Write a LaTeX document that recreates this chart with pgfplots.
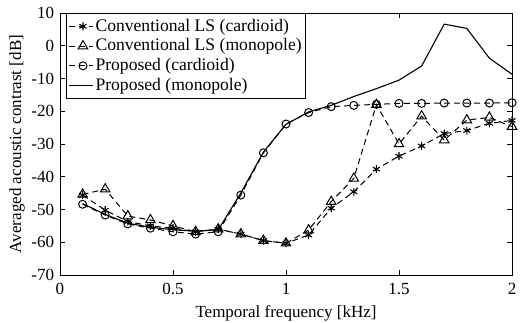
\documentclass[border=0pt]{standalone}
\usepackage{fontspec}
\setmainfont{Liberation Serif}
\usepackage{pgfplots}
\pgfplotsset{compat=1.18}
\begin{document}
\fontsize{17}{20}\selectfont
\begin{tikzpicture}
\begin{axis}[name=ax, at={(0,0)}, anchor=south west,
  scale only axis, width=452pt, height=262pt,
  xmin=0, xmax=2, ymin=-70, ymax=10,
  xtick={0,0.5,1,1.5,2}, ytick={-70,-60,...,10},
  xticklabels={0,0.5,1,1.5,2},
  /pgf/number format/assume math mode=true,
  tick align=inside, major tick length=5pt,
  tick style={line width=0.7pt, black},
  axis line style={line width=0.9pt},
  every tick label/.append style={font=\fontsize{17}{20}\selectfont},
  xticklabel style={yshift=-2pt},
  xlabel={Temporal frequency [kHz]},
  ylabel={Averaged acoustic contrast [dB]},
  xlabel style={at={(axis description cs:0.5,-0.145)}, anchor=center, font=\fontsize{17}{20}\selectfont},
  ylabel style={at={(axis description cs:-0.095,0.5)}, anchor=center, rotate=0, font=\fontsize{17}{20}\selectfont},
  legend style={at={(axis description cs:0.0133,1)}, anchor=north west,
    draw=black, line width=0.8pt, font=\fontsize{17.6}{20}\selectfont,
    inner xsep=2pt, inner ysep=3.5pt, row sep=1pt},
  legend cell align=left,
  legend image code/.code={\draw[#1] (0pt,0pt) -- (24pt,0pt); \draw[#1, mark repeat=1] plot coordinates {(14pt,0pt)};},
]
\addplot[black, line width=1pt, dash pattern=on 6pt off 4pt, mark=asterisk, mark size=4pt, mark options={solid, line width=1.1pt}] coordinates {
(0.1,-45.6) (0.2,-50.2) (0.3,-53.7) (0.4,-55.0) (0.5,-55.7) (0.6,-56.8) (0.7,-56.0) (0.8,-57.5) (0.9,-59.5) (1.0,-60.3)
(1.1,-57.8) (1.2,-49.6) (1.3,-44.6) (1.4,-37.7) (1.5,-33.7) (1.6,-30.6) (1.7,-26.8) (1.8,-25.9) (1.9,-23.7) (2.0,-22.8)};
\addlegendentry{Conventional LS (cardioid)}
\addplot[black, line width=1pt, dash pattern=on 6pt off 4pt, mark=triangle, mark size=5.5pt, mark options={solid, line width=1pt}] coordinates {
(0.1,-45.4) (0.2,-43.8) (0.3,-52.0) (0.4,-53.2) (0.5,-55.0) (0.6,-56.8) (0.7,-56.0) (0.8,-57.5) (0.9,-59.5) (1.0,-60.3)
(1.1,-56.3) (1.2,-47.6) (1.3,-40.5) (1.4,-18.0) (1.5,-30.0) (1.6,-21.5) (1.7,-28.8) (1.8,-22.7) (1.9,-21.9) (2.0,-24.7)};
\addlegendentry{Conventional LS (monopole)}
\addplot[black, line width=1pt, dash pattern=on 6pt off 4pt, mark=o, mark size=4pt, mark options={solid, line width=1pt}] coordinates {
(0.1,-48.4) (0.2,-51.7) (0.3,-54.4) (0.4,-55.7) (0.5,-56.8) (0.6,-57.5) (0.7,-56.8) (0.8,-45.6) (0.9,-32.7) (1.0,-23.9)
(1.1,-20.4) (1.2,-18.6) (1.3,-18.2) (1.4,-17.9) (1.5,-17.6) (1.6,-17.6) (1.7,-17.5) (1.8,-17.5) (1.9,-17.5) (2.0,-17.4)};
\addlegendentry{Proposed (cardioid)}
\addplot[black, line width=1.1pt, solid, no marks] coordinates {
(0.1,-48.2) (0.2,-51.5) (0.3,-54.2) (0.4,-55.4) (0.5,-56.2) (0.6,-56.6) (0.7,-56.2) (0.8,-45.0) (0.9,-32.5) (1.0,-24.0)
(1.1,-20.2) (1.2,-18.2) (1.3,-15.5) (1.4,-13.1) (1.5,-10.5) (1.6,-6.2) (1.7,6.6) (1.8,5.3) (1.9,-3.8) (2.0,-8.7)};
\addlegendentry{Proposed (monopole)}
\end{axis}
\pgfresetboundingbox
\path (ax.south west) ++(-60pt,-48pt) coordinate (bl);
\path (ax.north east) ++(14pt,13pt) coordinate (tr);
\path[use as bounding box] (bl) rectangle (tr);
\end{tikzpicture}
\end{document}
